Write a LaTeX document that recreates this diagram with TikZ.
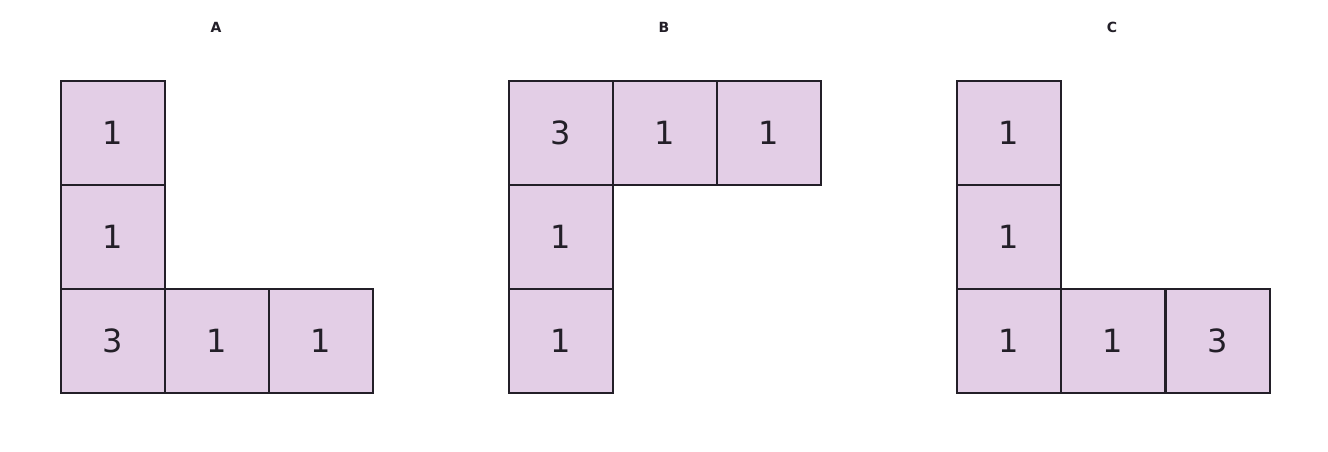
\documentclass[tikz,border=0pt]{standalone}
\usepackage{fontspec}
\setmainfont{DejaVu Sans}
\definecolor{cellfill}{HTML}{E3CEE6}
\definecolor{ink}{HTML}{231F28}
\begin{document}
\begin{tikzpicture}[x=1pt,y=-1pt,
 cell/.style={draw=ink,line width=2.2pt,fill=cellfill,minimum size=104pt,inner sep=0pt,anchor=north west,text=ink,font=\fontsize{32}{36}\selectfont},
 ttl/.style={text=ink,font=\bfseries\fontsize{14}{16}\selectfont}]
\useasboundingbox (0,0) rectangle (1328,452);
% A
\node[ttl] (tA) at (216,27) {A};
\node[cell] (a1) at (60,80) {1};
\node[cell] (a2) at (60,184) {1};
\node[cell] (a3) at (60,288) {3};
\node[cell] (a4) at (164,288) {1};
\node[cell] (a5) at (268,288) {1};
% B
\node[ttl] (tB) at (664,27) {B};
\node[cell] (b1) at (508,80) {3};
\node[cell] (b2) at (612,80) {1};
\node[cell] (b3) at (716,80) {1};
\node[cell] (b4) at (508,184) {1};
\node[cell] (b5) at (508,288) {1};
% C
\node[ttl] (tC) at (1112,27) {C};
\node[cell] (c1) at (956,80) {1};
\node[cell] (c2) at (956,184) {1};
\node[cell] (c3) at (956,288) {1};
\node[cell] (c4) at (1060,288) {1};
\node[cell] (c5) at (1165,288) {3};
\end{tikzpicture}
\end{document}
